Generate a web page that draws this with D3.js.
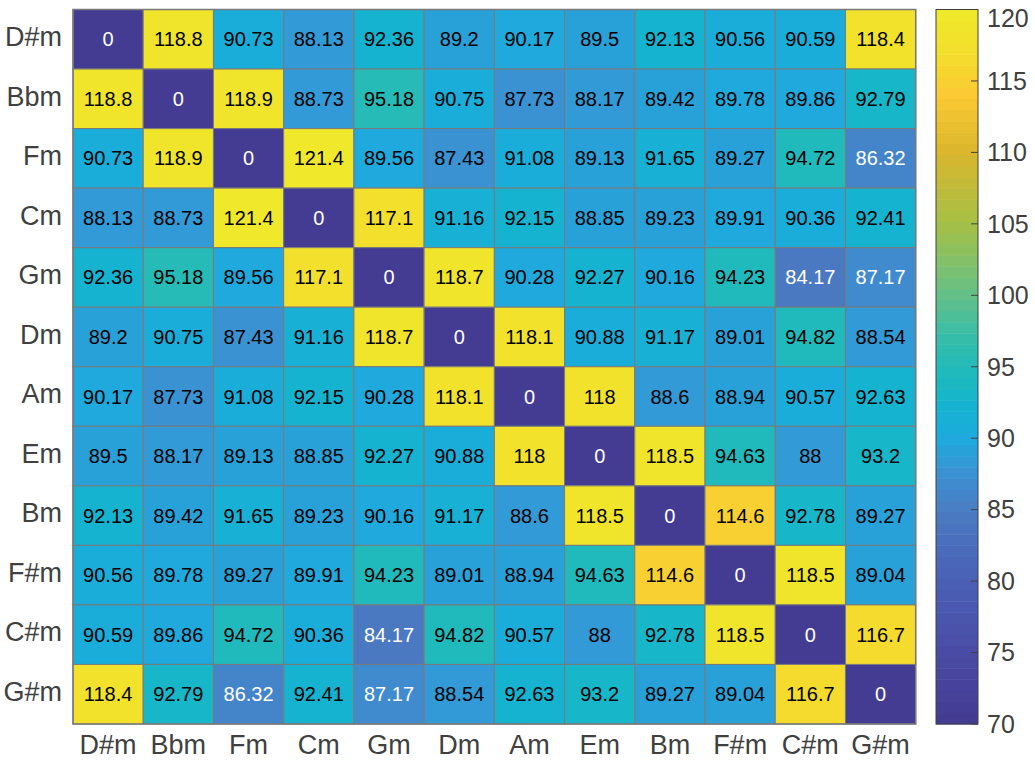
<!DOCTYPE html>
<html>
<head>
<meta charset="utf-8">
<script src="https://cdn.jsdelivr.net/npm/d3@7"></script>
<style>
  body { margin: 0; background: #fff; }
  text { font-family: "Liberation Sans", Arial, Helvetica, sans-serif; }
</style>
</head>
<body>
<script>
// keys (rows and columns)
const keys = ["D#m", "Bbm", "Fm", "Cm", "Gm", "Dm", "Am", "Em", "Bm", "F#m", "C#m", "G#m"];

// distance matrix, one row per key
const rowDsm = [0, 118.8, 90.73, 88.13, 92.36, 89.2, 90.17, 89.5, 92.13, 90.56, 90.59, 118.4];
const rowBbm = [118.8, 0, 118.9, 88.73, 95.18, 90.75, 87.73, 88.17, 89.42, 89.78, 89.86, 92.79];
const rowFm  = [90.73, 118.9, 0, 121.4, 89.56, 87.43, 91.08, 89.13, 91.65, 89.27, 94.72, 86.32];
const rowCm  = [88.13, 88.73, 121.4, 0, 117.1, 91.16, 92.15, 88.85, 89.23, 89.91, 90.36, 92.41];
const rowGm  = [92.36, 95.18, 89.56, 117.1, 0, 118.7, 90.28, 92.27, 90.16, 94.23, 84.17, 87.17];
const rowDm  = [89.2, 90.75, 87.43, 91.16, 118.7, 0, 118.1, 90.88, 91.17, 89.01, 94.82, 88.54];
const rowAm  = [90.17, 87.73, 91.08, 92.15, 90.28, 118.1, 0, 118, 88.6, 88.94, 90.57, 92.63];
const rowEm  = [89.5, 88.17, 89.13, 88.85, 92.27, 90.88, 118, 0, 118.5, 94.63, 88, 93.2];
const rowBm  = [92.13, 89.42, 91.65, 89.23, 90.16, 91.17, 88.6, 118.5, 0, 114.6, 92.78, 89.27];
const rowFsm = [90.56, 89.78, 89.27, 89.91, 94.23, 89.01, 88.94, 94.63, 114.6, 0, 118.5, 89.04];
const rowCsm = [90.59, 89.86, 94.72, 90.36, 84.17, 94.82, 90.57, 88, 92.78, 118.5, 0, 116.7];
const rowGsm = [118.4, 92.79, 86.32, 92.41, 87.17, 88.54, 92.63, 93.2, 89.27, 89.04, 116.7, 0];
const rows = [rowDsm, rowBbm, rowFm, rowCm, rowGm, rowDm, rowAm, rowEm, rowBm, rowFsm, rowCsm, rowGsm];

// colour limits and colorbar ticks
const colorLimits = [70, 120];
const colorTicks = [70, 75, 80, 85, 90, 95, 100, 105, 110, 115, 120];

let width = 1035, height = 768;
let margin = { top: 9.5, left: 73, bottom: 44, right: 119 };

// parula-like colormap, 64 steps
let stops = [70, 75, 80, 82.5, 85, 87.5, 90, 92.5, 95, 97.5, 100, 105, 110, 114, 117, 120];
let stopColors = ["#443a92", "#4a4ba5", "#4a60b4", "#4a6cbb", "#4a7dc4", "#3c91d2", "#1eaadd",
                  "#14b4cd", "#22bbb9", "#3cbea5", "#64c088", "#a5c046", "#dab62d", "#fbc934",
                  "#f3df2c", "#f0e92a"];
let lin = d3.scaleLinear().domain(stops).range(stopColors).interpolate(d3.interpolateRgb);
let nColors = 64;
let palette = d3.range(nColors).map(i => lin(colorLimits[0] + (i + 0.5) * (colorLimits[1] - colorLimits[0]) / nColors));
let color = d3.scaleQuantize().domain(colorLimits).range(palette);

let svg = d3.select("body").append("svg")
    .attr("width", width)
    .attr("height", height);

let plotW = 915.7 - margin.left;
let plotH = 724 - margin.top;

let x = d3.scaleBand().domain(keys).range([margin.left, margin.left + plotW]);
let y = d3.scaleBand().domain(keys).range([margin.top, margin.top + plotH]);

let cells = [];
rows.forEach((r, i) => r.forEach((v, j) => cells.push({ row: keys[i], col: keys[j], value: v })));

let fmt = d3.format(".4~g");
function textColor(v) {
  let c = d3.rgb(color(v));
  let lum = (0.299 * c.r + 0.587 * c.g + 0.114 * c.b) / 255;
  return lum < 0.493 ? "#ffffff" : "#000000";
}

let g = svg.append("g");

g.selectAll("rect.cell")
  .data(cells)
  .enter().append("rect")
  .attr("class", "cell")
  .attr("x", d => x(d.col))
  .attr("y", d => y(d.row))
  .attr("width", x.bandwidth())
  .attr("height", y.bandwidth())
  .attr("fill", d => color(d.value))
  .attr("stroke", "#7a7a7a")
  .attr("stroke-width", 1);

g.selectAll("text.val")
  .data(cells)
  .enter().append("text")
  .attr("class", "val")
  .attr("x", d => x(d.col) + x.bandwidth() / 2)
  .attr("y", d => y(d.row) + y.bandwidth() / 2)
  .attr("dy", "0.35em")
  .attr("text-anchor", "middle")
  .style("font-size", "20px")
  .attr("fill", d => textColor(d.value))
  .text(d => fmt(d.value));

// outer border
svg.append("rect")
  .attr("x", margin.left)
  .attr("y", margin.top)
  .attr("width", plotW)
  .attr("height", plotH)
  .attr("fill", "none")
  .attr("stroke", "#7a7a7a")
  .attr("stroke-width", 1.5);

// axis labels
svg.append("g").selectAll("text")
  .data(keys)
  .enter().append("text")
  .attr("x", margin.left - 11)
  .attr("y", d => y(d) + y.bandwidth() / 2)
  .attr("dy", "0.25em")
  .attr("text-anchor", "end")
  .style("font-size", "27px")
  .attr("fill", "#404040")
  .text(d => d);

svg.append("g").selectAll("text")
  .data(keys)
  .enter().append("text")
  .attr("x", d => x(d) + x.bandwidth() / 2)
  .attr("y", margin.top + plotH + 30)
  .attr("text-anchor", "middle")
  .style("font-size", "27px")
  .attr("fill", "#404040")
  .text(d => d);

// colorbar
let cbX = 936, cbW = 42;
let cy = d3.scaleLinear().domain(colorLimits).range([margin.top + plotH, margin.top]);

svg.append("g").selectAll("rect")
  .data(palette)
  .enter().append("rect")
  .attr("x", cbX)
  .attr("y", (d, i) => cy(colorLimits[0] + (i + 1) * (colorLimits[1] - colorLimits[0]) / nColors))
  .attr("width", cbW)
  .attr("height", (d, i) => cy(colorLimits[0] + i * 50 / nColors) - cy(colorLimits[0] + (i + 1) * 50 / nColors) + 0.5)
  .attr("fill", d => d);

svg.append("rect")
  .attr("x", cbX)
  .attr("y", margin.top)
  .attr("width", cbW)
  .attr("height", plotH)
  .attr("fill", "none")
  .attr("stroke", "#404040")
  .attr("stroke-width", 1);

let cbAxis = svg.append("g");
cbAxis.selectAll("line")
  .data(colorTicks)
  .enter().append("line")
  .attr("x1", cbX + cbW - 7)
  .attr("x2", cbX + cbW)
  .attr("y1", d => cy(d))
  .attr("y2", d => cy(d))
  .attr("stroke", "#404040")
  .attr("stroke-width", 1);

cbAxis.selectAll("text")
  .data(colorTicks)
  .enter().append("text")
  .attr("x", cbX + cbW + 9)
  .attr("y", d => Math.max(cy(d), 18))
  .attr("dy", "0.35em")
  .style("font-size", "25px")
  .attr("fill", "#404040")
  .text(d => d);
</script>
</body>
</html>
